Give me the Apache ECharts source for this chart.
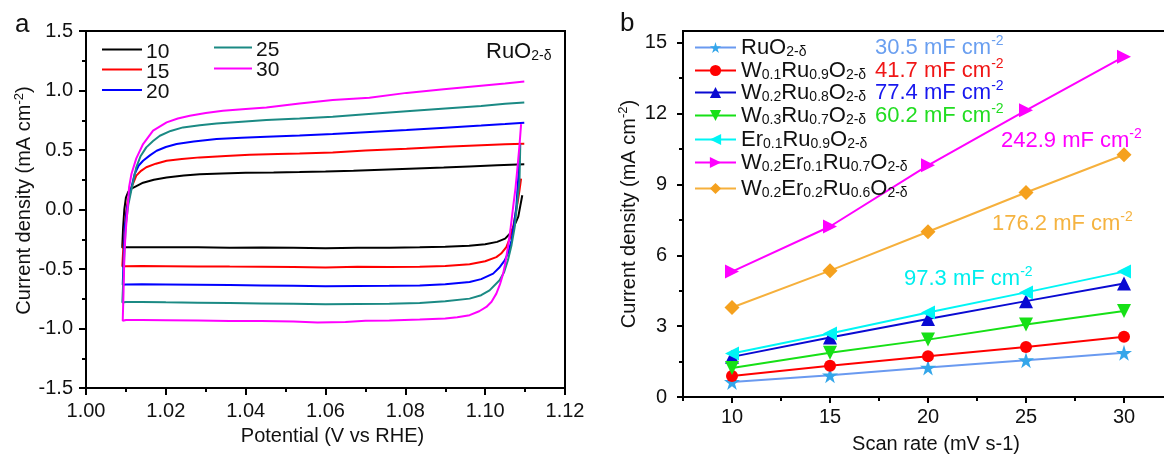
<!DOCTYPE html>
<html>
<head>
<meta charset="utf-8">
<script src="https://cdn.jsdelivr.net/npm/echarts@6/dist/echarts.min.js"></script>
<style>
  html, body { margin: 0; padding: 0; background: #fff; }
  #chart { width: 1164px; height: 456px; }
</style>
</head>
<body>
<div id="chart"></div>
<script>
// ---------- Panel a: CV curves of RuO2-δ at different scan rates (mV s-1) ----------
const cvScanRates = ['10', '15', '20', '25', '30'];
const cvColors = ['#000000', '#ff0000', '#0000ff', '#1b8a84', '#ff00ff'];

// Each loop: cathodic sweep (right to left), then anodic sweep (left to right); [potential V, current mA cm-2]
const cv10 = [
  [1.1093, 0.12], [1.1088, 0.03], [1.1083, -0.06], [1.1074, -0.13], [1.1063, -0.20], [1.1050, -0.245],
  [1.1030, -0.272], [1.1000, -0.292], [1.0960, -0.305], [1.0900, -0.312], [1.0836, -0.318], [1.0760, -0.322],
  [1.0680, -0.321], [1.0600, -0.325], [1.0520, -0.322], [1.0440, -0.320], [1.0360, -0.321], [1.0280, -0.318],
  [1.0200, -0.318], [1.0140, -0.317], [1.0100, -0.318], [1.0091, -0.322],
  [1.0091, -0.30], [1.0093, -0.15], [1.0096, 0.0], [1.0100, 0.10], [1.0106, 0.15], [1.0115, 0.178],
  [1.0125, 0.195], [1.0143, 0.225], [1.0170, 0.250], [1.0202, 0.268], [1.0245, 0.285], [1.0285, 0.296],
  [1.0340, 0.303], [1.0400, 0.308], [1.0470, 0.311], [1.0535, 0.315], [1.0600, 0.320], [1.0670, 0.326],
  [1.0740, 0.334], [1.0810, 0.342], [1.0896, 0.352], [1.0960, 0.362], [1.1030, 0.372], [1.1098, 0.380]
];
const cv15 = [
  [1.1090, 0.26], [1.1086, 0.16], [1.1082, 0.075], [1.1076, -0.04], [1.1070, -0.148], [1.1062, -0.24],
  [1.1053, -0.316], [1.1040, -0.37], [1.1028, -0.40], [1.1000, -0.435], [1.0961, -0.46], [1.0900, -0.475],
  [1.0836, -0.482], [1.0760, -0.484], [1.0680, -0.482], [1.0600, -0.487], [1.0520, -0.484], [1.0440, -0.481],
  [1.0360, -0.480], [1.0280, -0.478], [1.0200, -0.476], [1.0140, -0.475], [1.0100, -0.476], [1.0091, -0.478],
  [1.0093, -0.35], [1.0096, -0.20], [1.0099, -0.06], [1.0104, 0.06], [1.0114, 0.187], [1.0126, 0.285],
  [1.0138, 0.325], [1.0151, 0.355], [1.0175, 0.385], [1.0202, 0.41], [1.0240, 0.425], [1.0285, 0.438],
  [1.0350, 0.450], [1.0410, 0.460], [1.0480, 0.466], [1.0535, 0.470], [1.0618, 0.480], [1.0700, 0.495],
  [1.0803, 0.510], [1.0900, 0.527], [1.0990, 0.540], [1.1050, 0.548], [1.1098, 0.553]
];
const cv20 = [
  [1.1086, 0.41], [1.1082, 0.22], [1.1078, 0.02], [1.1072, -0.13], [1.1066, -0.26], [1.1058, -0.36],
  [1.1049, -0.427], [1.1035, -0.49], [1.1020, -0.539], [1.0990, -0.585], [1.0961, -0.609], [1.0900, -0.628],
  [1.0836, -0.638], [1.0760, -0.641], [1.0680, -0.642], [1.0600, -0.645], [1.0520, -0.641], [1.0440, -0.638],
  [1.0360, -0.635], [1.0280, -0.632], [1.0200, -0.630], [1.0140, -0.628], [1.0100, -0.630], [1.0092, -0.633],
  [1.0094, -0.45], [1.0097, -0.148], [1.0103, 0.02], [1.0110, 0.131], [1.0122, 0.30], [1.0132, 0.37],
  [1.0143, 0.41], [1.0160, 0.455], [1.0177, 0.494], [1.0200, 0.525], [1.0227, 0.550], [1.0270, 0.572],
  [1.0327, 0.592], [1.0390, 0.603], [1.0452, 0.612], [1.0535, 0.622], [1.0618, 0.635], [1.0700, 0.650],
  [1.0803, 0.668], [1.0900, 0.688], [1.0990, 0.705], [1.1050, 0.718], [1.1098, 0.730]
];
const cv25 = [
  [1.1088, 0.55], [1.1086, 0.243], [1.1080, 0.05], [1.1074, -0.148], [1.1066, -0.30], [1.1057, -0.427],
  [1.1047, -0.53], [1.1036, -0.595], [1.1011, -0.68], [1.0990, -0.72], [1.0961, -0.749], [1.0900, -0.772],
  [1.0836, -0.785], [1.0760, -0.792], [1.0680, -0.794], [1.0600, -0.796], [1.0520, -0.792], [1.0440, -0.789],
  [1.0360, -0.786], [1.0280, -0.783], [1.0200, -0.780], [1.0140, -0.777], [1.0100, -0.778], [1.0091, -0.782],
  [1.0094, -0.55], [1.0097, -0.30], [1.0100, -0.12], [1.0106, 0.04], [1.0114, 0.17], [1.0126, 0.355],
  [1.0137, 0.45], [1.0151, 0.522], [1.0168, 0.575], [1.0185, 0.62], [1.0212, 0.66], [1.0243, 0.69],
  [1.0285, 0.708], [1.0327, 0.723], [1.0390, 0.738], [1.0452, 0.752], [1.0535, 0.765], [1.0618, 0.780],
  [1.0700, 0.800], [1.0803, 0.825], [1.0900, 0.848], [1.0990, 0.870], [1.1050, 0.888], [1.1098, 0.900]
];
const cv30 = [
  [1.1090, 0.718], [1.1086, 0.54], [1.1081, 0.355], [1.1076, 0.18], [1.1070, 0.02], [1.1064, -0.15],
  [1.1057, -0.316], [1.1051, -0.44], [1.1045, -0.539], [1.1037, -0.63], [1.1028, -0.707], [1.1016, -0.775],
  [1.1003, -0.819], [1.0985, -0.855], [1.0961, -0.888], [1.0930, -0.905], [1.0900, -0.915], [1.0836, -0.925],
  [1.0760, -0.932], [1.0700, -0.935], [1.0650, -0.945], [1.0580, -0.950], [1.0520, -0.942], [1.0440, -0.938],
  [1.0360, -0.936], [1.0280, -0.933], [1.0200, -0.930], [1.0140, -0.928], [1.0100, -0.928], [1.0092, -0.935],
  [1.0094, -0.70], [1.0096, -0.40], [1.0099, -0.20], [1.0104, 0.0], [1.0108, 0.19], [1.0114, 0.30],
  [1.0126, 0.43], [1.0143, 0.55], [1.0168, 0.662], [1.0202, 0.732], [1.0230, 0.765], [1.0260, 0.788],
  [1.0300, 0.810], [1.0343, 0.830], [1.0400, 0.845], [1.0452, 0.857], [1.0535, 0.891], [1.0618, 0.920],
  [1.0710, 0.940], [1.0803, 0.980], [1.0896, 1.010], [1.0990, 1.040], [1.1050, 1.058], [1.1098, 1.075]
];
const cvLoops = [cv10, cv15, cv20, cv25, cv30];

// ---------- Panel b: current density vs scan rate ----------
const scanRates = [10, 15, 20, 25, 30];
const jRuO2 = [0.64, 0.92, 1.25, 1.56, 1.87];
const jW01Ru09 = [0.89, 1.32, 1.73, 2.12, 2.55];
const jW02Ru08 = [1.70, 2.52, 3.30, 4.06, 4.81];
const jW03Ru07 = [1.23, 1.87, 2.43, 3.07, 3.64];
const jEr01Ru09 = [1.84, 2.69, 3.58, 4.43, 5.31];
const jW02Er01Ru07 = [5.31, 7.22, 9.81, 12.14, 14.41];
const jW02Er02Ru06 = [3.79, 5.35, 7.00, 8.66, 10.26];

// Sample formulas as [element, subscript] pairs
const sampleFormulas = [
  [['RuO', '2-δ']],
  [['W', '0.1'], ['Ru', '0.9'], ['O', '2-δ']],
  [['W', '0.2'], ['Ru', '0.8'], ['O', '2-δ']],
  [['W', '0.3'], ['Ru', '0.7'], ['O', '2-δ']],
  [['Er', '0.1'], ['Ru', '0.9'], ['O', '2-δ']],
  [['W', '0.2'], ['Er', '0.1'], ['Ru', '0.7'], ['O', '2-δ']],
  [['W', '0.2'], ['Er', '0.2'], ['Ru', '0.6'], ['O', '2-δ']]
];
const capacitances = ['30.5', '41.7', '77.4', '60.2', '97.3', '242.9', '176.2'];
const yTicksB = [0, 3, 6, 9, 12, 15];
const yMinorTicksB = [1.5, 4.5, 7.5, 10.5, 13.5];
const xTicksB = [10, 15, 20, 25, 30];
const xMinorTicksB = [7.5, 12.5, 17.5, 22.5, 27.5, 32.5];

const FONT = 'Liberation Sans, Arial, Helvetica, sans-serif';
const starPath = 'path://M50,0 L61,35 L98,35 L68,57 L79,91 L50,70 L21,91 L32,57 L2,35 L39,35 Z';

const seriesStyleB = [
  { data: jRuO2, line: '#6a9af0', fill: '#34a6ea', symbol: starPath, size: 16, rotate: 0, text: '#6a9ff0' },
  { data: jW01Ru09, line: '#ff0000', fill: '#ff0000', symbol: 'circle', size: 12, rotate: 0, text: '#f01616' },
  { data: jW02Ru08, line: '#0a0ad2', fill: '#0a0ad2', symbol: 'triangle', size: 14, rotate: 0, text: '#1818ee' },
  { data: jW03Ru07, line: '#16e016', fill: '#16e016', symbol: 'triangle', size: 14, rotate: 180, text: '#22dd22' },
  { data: jEr01Ru09, line: '#00f5f5', fill: '#00f5f5', symbol: 'triangle', size: 14, rotate: 90, text: '#00eeee' },
  { data: jW02Er01Ru07, line: '#ff00ff', fill: '#ff00ff', symbol: 'triangle', size: 14, rotate: -90, text: '#ff00ff' },
  { data: jW02Er02Ru06, line: '#f6b03c', fill: '#f5a11e', symbol: 'diamond', size: 15, rotate: 0, text: '#f5b340' }
];

const formulaName = parts => parts.map(p => p[0] + p[1]).join('');
const formulaRich = parts => parts.map(p => '{m|' + p[0] + '}{s|' + p[1] + '}').join('');

const axisBase = {
  axisLine: { show: true, onZero: false, lineStyle: { color: '#000', width: 2 } },
  axisTick: { show: true, inside: false, length: 7, lineStyle: { color: '#000', width: 2 } },
  splitLine: { show: false },
  axisLabel: { fontFamily: FONT, fontSize: 20, color: '#111' },
  nameLocation: 'middle'
};
const nameRich = {
  t: { fontFamily: FONT, fontSize: 20, color: '#111', lineHeight: 24 },
  s: { fontFamily: FONT, fontSize: 13, color: '#111', lineHeight: 13, verticalAlign: 'top' }
};

// ---------- series ----------
const series = [];
cvLoops.forEach((loop, i) => {
  series.push({
    name: cvScanRates[i], type: 'line', xAxisIndex: 0, yAxisIndex: 0,
    data: loop, showSymbol: false, symbol: 'none',
    lineStyle: { color: cvColors[i], width: 2 }, itemStyle: { color: cvColors[i] },
    silent: true
  });
});
seriesStyleB.forEach((st, i) => {
  series.push({
    name: formulaName(sampleFormulas[i]), type: 'line', xAxisIndex: 1, yAxisIndex: 1,
    data: scanRates.map((x, k) => [x, st.data[k]]),
    symbol: st.symbol, symbolSize: st.size, symbolRotate: st.rotate, showSymbol: true,
    lineStyle: { color: st.line, width: 2 }, itemStyle: { color: st.fill },
    silent: true, z: 3
  });
});

// ---------- panel b legend (one component per entry) ----------
const legendRowsB = [48, 71, 93, 116, 140, 163, 189];
const legendB = sampleFormulas.map((parts, i) => ({
  data: [formulaName(parts)], left: 694, top: legendRowsB[i] - 11.5, orient: 'horizontal',
  itemWidth: 41, itemHeight: 14, selectedMode: false, padding: 0,
  formatter: () => formulaRich(parts),
  textStyle: {
    color: '#111',
    rich: {
      m: { fontFamily: FONT, fontSize: 22, color: '#111', lineHeight: 23 },
      s: { fontFamily: FONT, fontSize: 14, color: '#111', lineHeight: 14, verticalAlign: 'bottom' }
    }
  }
}));

// ---------- panel a key: short line + scan-rate label per loop ----------
const keyA = [
  { x: 102, w: 40, y: 49.5, ty: 52 }, { x: 102, w: 40, y: 69.5, ty: 72 }, { x: 102, w: 40, y: 90, ty: 92 },
  { x: 214, w: 38, y: 47.5, ty: 50 }, { x: 214, w: 38, y: 68.5, ty: 70.5 }
];
const graphics = [];
keyA.forEach((k, i) => {
  graphics.push(
    { type: 'line', silent: true, shape: { x1: k.x, y1: k.y, x2: k.x + k.w, y2: k.y },
      style: { stroke: cvColors[i], lineWidth: 2.2 } },
    { type: 'text', x: k.x + k.w + 4, y: k.ty, silent: true,
      style: { text: cvScanRates[i], fontFamily: FONT, fontSize: 21, fill: '#111', verticalAlign: 'middle' } }
  );
});

// ---------- text annotations ----------
const annotRich = color => ({
  m: { fontFamily: FONT, fontSize: 22, fill: color, lineHeight: 27 },
  s: { fontFamily: FONT, fontSize: 14, fill: color, lineHeight: 14, verticalAlign: 'top' }
});
const annotPos = [[875, 48], [875, 71], [875, 93], [875, 116], [904, 279], [1001, 141], [992, 224]];
annotPos.forEach((p, i) => {
  graphics.push({
    type: 'text', x: p[0], y: p[1], silent: true,
    style: {
      text: '{m|' + capacitances[i] + ' mF cm}{s|-2}',
      rich: annotRich(seriesStyleB[i].text), verticalAlign: 'middle', align: 'left'
    }
  });
});
graphics.push(
  { type: 'text', x: 15, y: 25, silent: true,
    style: { text: 'a', fontFamily: FONT, fontSize: 26, fill: '#111', verticalAlign: 'middle' } },
  { type: 'text', x: 620, y: 24, silent: true,
    style: { text: 'b', fontFamily: FONT, fontSize: 26, fill: '#111', verticalAlign: 'middle' } },
  { type: 'text', x: 486, y: 52, silent: true,
    style: {
      text: formulaRich(sampleFormulas[0]), verticalAlign: 'middle',
      rich: {
        m: { fontFamily: FONT, fontSize: 22, fill: '#111', lineHeight: 23 },
        s: { fontFamily: FONT, fontSize: 14, fill: '#111', lineHeight: 14, verticalAlign: 'bottom' }
      }
    } }
);

const option = {
  animation: false,
  backgroundColor: '#ffffff',
  grid: [
    { left: 86, top: 31, width: 479, height: 357, show: true, borderColor: '#000', borderWidth: 2,
      backgroundColor: 'transparent', outerBoundsMode: 'none', containLabel: false },
    { left: 683, top: 31, width: 539, height: 366, show: true, borderColor: '#000', borderWidth: 2,
      backgroundColor: 'transparent', outerBoundsMode: 'none', containLabel: false }
  ],
  xAxis: [
    Object.assign({}, axisBase, {
      gridIndex: 0, type: 'value', min: 1.0, max: 1.12, interval: 0.02,
      minorTick: { show: true, splitNumber: 2, length: 4, lineStyle: { color: '#000', width: 2 } },
      axisLabel: Object.assign({}, axisBase.axisLabel, { margin: 13, formatter: v => v.toFixed(2) }),
      name: 'Potential (V vs RHE)', nameGap: 38,
      nameTextStyle: { fontFamily: FONT, fontSize: 20, color: '#111', padding: [0, 0, 0, 14] }
    }),
    Object.assign({}, axisBase, {
      gridIndex: 1, type: 'value', min: 7.5, max: 35,
      axisTick: Object.assign({}, axisBase.axisTick, { length: 6, customValues: xTicksB }),
      axisLabel: Object.assign({}, axisBase.axisLabel, { margin: 10, customValues: xTicksB }),
      name: 'Scan rate (mV s-1)', nameGap: 37,
      nameTextStyle: { fontFamily: FONT, fontSize: 20, color: '#111', padding: [0, 33, 0, 0] }
    }),
    {
      gridIndex: 1, type: 'value', min: 7.5, max: 35, position: 'bottom',
      axisLine: { show: false }, splitLine: { show: false }, axisLabel: { show: false },
      axisTick: { show: true, length: 4, customValues: xMinorTicksB, lineStyle: { color: '#000', width: 2 } }
    }
  ],
  yAxis: [
    Object.assign({}, axisBase, {
      gridIndex: 0, type: 'value', min: -1.5, max: 1.5, interval: 0.5,
      minorTick: { show: true, splitNumber: 2, length: 4, lineStyle: { color: '#000', width: 2 } },
      axisLabel: Object.assign({}, axisBase.axisLabel, { margin: 13, formatter: v => v.toFixed(1) }),
      name: '{t|Current density (mA cm}{s|-2}{t|)}', nameGap: 49, nameRotate: 90,
      nameTextStyle: { rich: nameRich, padding: [0, 0, 0, 18] }
    }),
    Object.assign({}, axisBase, {
      gridIndex: 1, type: 'value', min: 0, max: 15.5,
      axisTick: Object.assign({}, axisBase.axisTick, { length: 6, customValues: yTicksB }),
      axisLabel: Object.assign({}, axisBase.axisLabel, { margin: 16, customValues: yTicksB }),
      name: '{t|Current density (mA cm}{s|-2}{t|)}', nameGap: 42, nameRotate: 90,
      nameTextStyle: { rich: nameRich }
    }),
    {
      gridIndex: 1, type: 'value', min: 0, max: 15.5, position: 'left',
      axisLine: { show: false }, splitLine: { show: false }, axisLabel: { show: false },
      axisTick: { show: true, length: 4, customValues: yMinorTicksB, lineStyle: { color: '#000', width: 2 } }
    }
  ],
  legend: legendB,
  graphic: graphics,
  series: series
};

const chart = echarts.init(document.getElementById('chart'), null, { renderer: 'canvas' });
chart.setOption(option);
</script>
</body>
</html>
